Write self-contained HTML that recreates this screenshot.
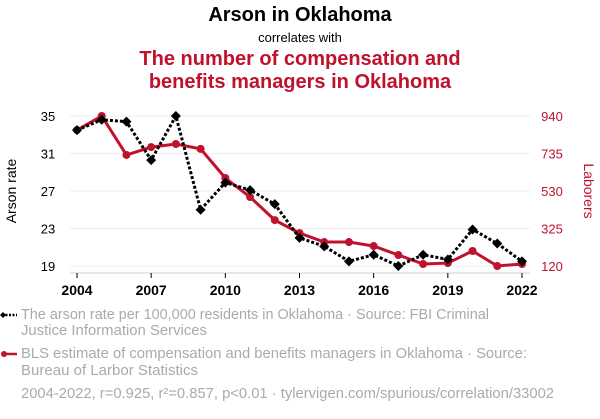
<!DOCTYPE html>
<html><head><meta charset="utf-8"><style>
body{margin:0;background:#fff;font-family:"Liberation Sans",sans-serif;}
svg text{font-family:"Liberation Sans",sans-serif;}
</style></head><body>
<svg id="c" width="600" height="414" xmlns="http://www.w3.org/2000/svg">
<text x="300" y="21" text-anchor="middle" font-size="20" font-weight="bold" fill="#000">Arson in Oklahoma</text>
<text x="300" y="42" text-anchor="middle" font-size="13" fill="#000">correlates with</text>
<text x="300" y="65" text-anchor="middle" font-size="20" font-weight="bold" fill="#c0122d">The number of compensation and</text>
<text x="300" y="88" text-anchor="middle" font-size="20" font-weight="bold" fill="#c0122d">benefits managers in Oklahoma</text>
<g id="grid"></g><g id="axes"></g><g id="series"></g>
<text transform="translate(16,191) rotate(-90)" text-anchor="middle" font-size="14" fill="#000">Arson rate</text>
<text transform="translate(584,191) rotate(90)" text-anchor="middle" font-size="14" fill="#c0122d">Laborers</text>
<g>
<line x1="2" y1="315" x2="17" y2="315" stroke="#000" stroke-width="2.5" stroke-dasharray="2,1.5"/>
<path d="M3,312 L6,315 L3,318 L0,315Z" fill="#000"/>
<text x="21" y="319" font-size="14.5" fill="#aaa" textLength="468" lengthAdjust="spacingAndGlyphs">The arson rate per 100,000 residents in Oklahoma · Source: FBI Criminal</text>
<text x="21" y="335" font-size="14.5" fill="#aaa" textLength="186" lengthAdjust="spacingAndGlyphs">Justice Information Services</text>
</g>
<g>
<line x1="2" y1="354" x2="17" y2="354" stroke="#c0122d" stroke-width="2.5"/>
<circle cx="4" cy="354" r="3" fill="#c0122d"/>
<text x="21" y="358" font-size="14.5" fill="#aaa" textLength="506" lengthAdjust="spacingAndGlyphs">BLS estimate of compensation and benefits managers in Oklahoma · Source:</text>
<text x="21" y="375" font-size="14.5" fill="#aaa" textLength="177" lengthAdjust="spacingAndGlyphs">Bureau of Larbor Statistics</text>
</g>
<text x="21" y="398" font-size="14.5" fill="#aaa" textLength="533" lengthAdjust="spacingAndGlyphs">2004-2022, r=0.925, r²=0.857, p&lt;0.01 · tylervigen.com/spurious/correlation/33002</text>
</svg>
<script>
const years=[2004,2005,2006,2007,2008,2009,2010,2011,2012,2013,2014,2015,2016,2017,2018,2019,2020,2021,2022];
const arson=[33.5,34.6,34.4,30.3,35,25.0,27.9,27.1,25.6,22.0,21.1,19.5,20.2,19.0,20.2,19.7,22.9,21.4,19.5];
const managers=[863,940,727,770,787,760,601,497,371,300,251,251,229,180,131,136,202,120,131];
const leftTicks=[19,23,27,31,35];
const rightTicks=[120,325,530,735,940];
const xTicks=[2004,2007,2010,2013,2016,2019,2022];
const NS="http://www.w3.org/2000/svg";
const x=v=>77+(v-2004)*(522-77)/18;
const yL=v=>266-(v-19)*150/16;
const yR=v=>266-(v-120)*150/820;
function mk(t,a,p){const e=document.createElementNS(NS,t);for(const k in a)e.setAttribute(k,a[k]);p.appendChild(e);return e;}
const grid=document.getElementById('grid'),axes=document.getElementById('axes'),ser=document.getElementById('series');
leftTicks.forEach((v,i)=>{
 const g=mk('line',{x1:70,x2:530,y1:yL(v),y2:yL(v),stroke:'#eee','stroke-width':1},grid);
 
 
 const t=mk('text',{x:48,y:yL(v)+5,'text-anchor':'middle','font-size':13,fill:'#000'},axes);t.textContent=v;
 
 
});
rightTicks.forEach(v=>{
 const t=mk('text',{x:552,y:yR(v)+5,'text-anchor':'middle','font-size':13,fill:'#c0122d'},axes);t.textContent=v;
 
 
});
const ax=mk('line',{x1:70,x2:530,y1:273,y2:273,stroke:'#ccc','stroke-width':1},axes);


xTicks.forEach(v=>{
 mk('line',{x1:x(v),x2:x(v),y1:273,y2:278,stroke:'#000','stroke-width':1},axes);
 const t=mk('text',{x:x(v),y:295,'text-anchor':'middle','font-size':14,'font-weight':'bold',fill:'#000'},axes);t.textContent=v;
 
 
});
const rl=mk('polyline',{points:years.map((y,i)=>x(y)+','+yR(managers[i])).join(' '),fill:'none',stroke:'#c0122d','stroke-width':3},ser);


years.forEach((y,i)=>{
 const c=mk('circle',{cx:x(y),cy:yR(managers[i]),r:4,fill:'#c0122d'},ser);
 
 
});
const bl=mk('polyline',{points:years.map((y,i)=>x(y)+','+yL(arson[i])).join(' '),fill:'none',stroke:'#000','stroke-width':3,'stroke-dasharray':'3,2'},ser);


years.forEach((y,i)=>{
 const cx=x(y),cy=yL(arson[i]);
 const d=mk('path',{d:`M${cx},${cy-5}L${cx+5},${cy}L${cx},${cy+5}L${cx-5},${cy}Z`,fill:'#000'},ser);
 
 
});
</script>
</body></html>
